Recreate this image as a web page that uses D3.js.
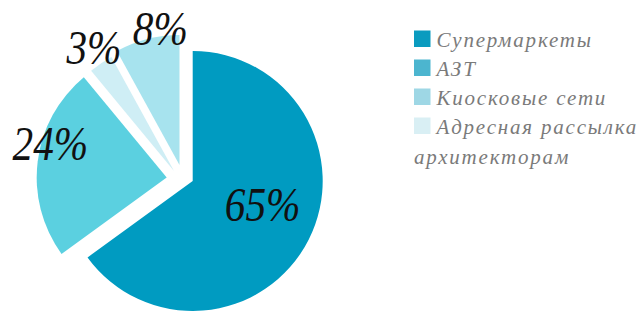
<!DOCTYPE html>
<html>
<head>
<meta charset="utf-8">
<script src="https://cdn.jsdelivr.net/npm/d3@7"></script>
<style>
  body { margin: 0; background: #fff; }
  svg { display: block; }
</style>
</head>
<body>
<div id="vis"></div>
<script>
// categories in legend order
let categories = ['Супермаркеты', 'АЗТ', 'Киосковые сети', 'Адресная рассылка архитекторам'];
let shares = [65, 24, 8, 3];
// clockwise order of slices from 12 o'clock
let pieOrder = [0, 1, 3, 2];

let sliceColors = ['#009bc1', '#5bd0e0', '#a7e3ee', '#cfeef5'];
let legendColors = ['#0a9bbf', '#4cb5cf', '#9ed7e5', '#d9eff4'];

// how far each slice is pulled out, px [dx, dy]
let explode = [[0, 0], [-26, -3.5], [-13.2, -16], [-18.7, -10]];
// label placement relative to slice tip: [distance, angle in degrees]
let labelPolar = [[74, 109], [121, 286], [138, 352], [147, 327]];

let width = 644, height = 311;
let cx = 192.7, cy = 181, radius = 130;

let svg = d3.select('#vis')
  .append('svg')
  .attr('width', width)
  .attr('height', height)
  .style('background-color', 'white');

let pie = d3.pie()
  .sort(null)
  .value(d => d.value);

let pieData = pie(pieOrder.map(i => ({ idx: i, value: shares[i] })));

let arc = d3.arc()
  .innerRadius(0)
  .outerRadius(radius);

let g = svg.append('g')
  .attr('transform', `translate(${cx},${cy})`);

g.selectAll('path.slice')
  .data(pieData)
  .join('path')
  .attr('class', 'slice')
  .attr('d', arc)
  .attr('fill', d => sliceColors[d.data.idx])
  .attr('transform', d => `translate(${explode[d.data.idx][0]},${explode[d.data.idx][1]})`);

// percentage labels
function polar(r, deg) {
  let a = deg * Math.PI / 180;
  return [r * Math.sin(a), -r * Math.cos(a)];
}

g.selectAll('text.pct')
  .data(pieData)
  .join('text')
  .attr('class', 'pct')
  .attr('transform', d => {
    let i = d.data.idx;
    let p = polar(labelPolar[i][0], labelPolar[i][1]);
    // the original face is narrower than Liberation Serif, squeeze a bit
    return `translate(${p[0] + explode[i][0]},${p[1] + explode[i][1]}) scale(0.86,1)`;
  })
  .attr('text-anchor', 'middle')
  .attr('dy', '0.34em')
  .style('font-family', '"Liberation Serif", serif')
  .style('font-style', 'italic')
  .style('font-size', '48px')
  .style('fill', '#111')
  .text(d => d.data.value + '%');

// legend
let legend = svg.append('g')
  .attr('transform', 'translate(414,30.5)');

let rowH = 29;

legend.selectAll('rect')
  .data(categories)
  .join('rect')
  .attr('x', 0)
  .attr('y', (d, i) => i * rowH)
  .attr('width', 16.5)
  .attr('height', 16.5)
  .attr('fill', (d, i) => legendColors[i]);

let legendText = legend.selectAll('text')
  .data(categories)
  .join('text')
  .attr('x', 22.5)
  .attr('y', (d, i) => i * rowH + 16.8)
  .style('font-family', '"Liberation Serif", serif')
  .style('font-style', 'italic')
  .style('font-size', '21px')
  .style('letter-spacing', '1.8px')
  .style('fill', '#7a7a7a');

// last label wraps onto a second line starting under the swatch
legendText.each(function(d) {
  let words = d.split(' ');
  let t = d3.select(this);
  if (words.length > 2) {
    t.append('tspan').text(words.slice(0, 2).join(' '));
    t.append('tspan').attr('x', 0).attr('dy', rowH + 1).text(words.slice(2).join(' '));
  } else {
    t.text(d);
  }
});
</script>
</body>
</html>
